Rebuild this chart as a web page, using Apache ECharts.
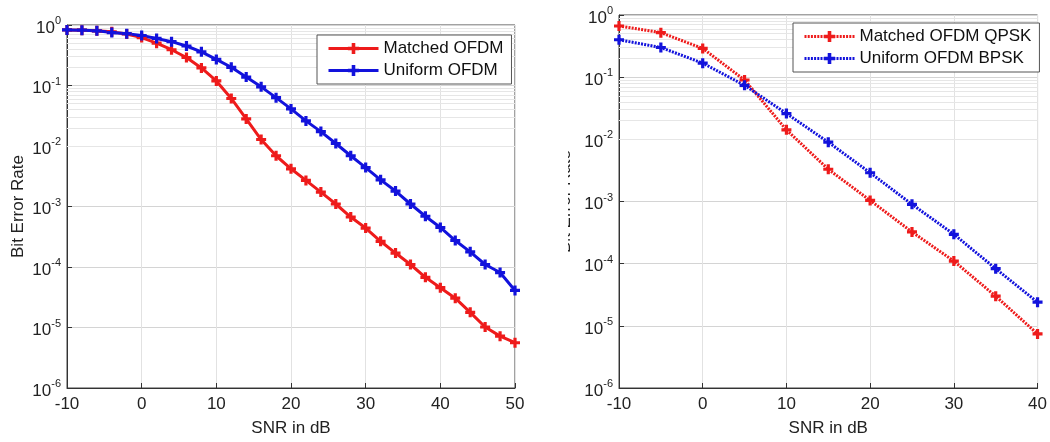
<!DOCTYPE html>
<html>
<head>
<meta charset="utf-8">
<script src="https://cdn.jsdelivr.net/npm/echarts@6/dist/echarts.min.js"></script>
<style>
  html, body { margin: 0; padding: 0; background: #fff; }
  #chart { width: 1050px; height: 442px; }
</style>
</head>
<body>
<div id="chart"></div>
<script>
// left panel: SNR every 2 dB
const snrLeft = [-10, -8, -6, -4, -2, 0, 2, 4, 6, 8, 10, 12, 14, 16, 18, 20, 22, 24, 26, 28, 30, 32, 34, 36, 38, 40, 42, 44, 46, 48, 50]
const berMatched = [0.83, 0.82, 0.80, 0.77, 0.71, 0.62, 0.50, 0.39, 0.29, 0.195, 0.119, 0.061, 0.028, 0.0128, 0.0069, 0.0042, 0.0027, 0.00173, 0.0011, 0.00067, 0.00044, 0.000266, 0.00017, 0.00011, 0.0000675, 0.0000455, 0.0000305, 0.0000178, 0.0000102, 0.0000072, 0.0000056]
const berUniform = [0.83, 0.82, 0.80, 0.75, 0.72, 0.67, 0.60, 0.53, 0.45, 0.36, 0.27, 0.20, 0.138, 0.095, 0.063, 0.041, 0.026, 0.0173, 0.011, 0.0069, 0.0044, 0.00276, 0.0018, 0.0011, 0.00069, 0.00045, 0.000274, 0.000178, 0.00011, 0.000081, 0.000041]

// right panel: SNR every 5 dB
const snrRight = [-10, -5, 0, 5, 10, 15, 20, 25, 30, 35, 40]
const berQpsk = [0.665, 0.52, 0.29, 0.09, 0.0142, 0.0033, 0.00104, 0.000324, 0.00011, 0.00003, 0.0000074]
const berBpsk = [0.40, 0.30, 0.168, 0.074, 0.026, 0.009, 0.0029, 0.0009, 0.000297, 0.000083, 0.000024]

const decades = [1e-6, 1e-5, 1e-4, 1e-3, 1e-2, 1e-1]
const mantissas = [2, 3, 4, 5, 6, 7, 8, 9]

const RED = '#ee1b1b'
const BLUE = '#1212dc'
const FONT = 'Liberation Sans, Arial, sans-serif'
const PLUS = 'path://M3.4,0H6.6V3.4H10V6.6H6.6V10H3.4V6.6H0V3.4H3.4Z'

let minorLines = []
decades.forEach(d => {
  mantissas.forEach(m => {
    minorLines.push({ yAxis: +(m * d).toPrecision(3) })
  })
})

const pairs = (xs, ys) => xs.map((x, i) => [x, ys[i]])

function xAxisFor(idx, max) {
  return {
    type: 'value', gridIndex: idx, min: -10, max: max, interval: 10,
    name: 'SNR in dB', nameLocation: 'middle', nameGap: 32,
    nameTextStyle: { color: '#222', fontFamily: FONT, fontSize: 17 },
    axisLine: { onZero: false, lineStyle: { color: '#333' } },
    axisTick: { inside: true, length: 5, lineStyle: { color: '#333' } },
    axisLabel: { color: '#222', fontFamily: FONT, fontSize: 17, margin: 8 },
    splitLine: { show: true, lineStyle: { color: '#e2e2e2', width: 1 } }
  }
}

function yAxisFor(idx, gap) {
  return {
    type: 'log', gridIndex: idx, logBase: 10, min: 1e-6, max: 1,
    name: 'Bit Error Rate', nameLocation: 'middle', nameGap: gap,
    nameTextStyle: { color: '#222', fontFamily: FONT, fontSize: 17 },
    axisLine: { onZero: false, lineStyle: { color: '#333' } },
    axisTick: { inside: true, length: 5, lineStyle: { color: '#333' } },
    axisLabel: {
      margin: 6,
      formatter: v => '{b|10}{s|' + Math.round(Math.log10(v)) + '}',
      rich: {
        b: { color: '#222', fontFamily: FONT, fontSize: 17, padding: [6, 0, 0, 0] },
        s: { color: '#222', fontFamily: FONT, fontSize: 11, padding: [0, 0, 8, 0] }
      }
    },
    splitLine: { show: true, lineStyle: { color: '#d4d4d4', width: 1 } }
  }
}

function minorSeries(idx) {
  return {
    type: 'line', xAxisIndex: idx, yAxisIndex: idx, data: [], z: 1, silent: true,
    markLine: {
      silent: true, symbol: 'none', label: { show: false }, z: 1,
      lineStyle: { color: '#e6e6e6', type: 'solid', width: 1 },
      animation: false, data: minorLines
    }
  }
}

function curve(name, idx, data, color, dotted) {
  return {
    name: name, type: 'line', xAxisIndex: idx, yAxisIndex: idx, data: data, z: 5,
    symbol: PLUS, symbolSize: 10, showAllSymbol: true,
    itemStyle: { color: color },
    lineStyle: { color: color, width: 3, type: dotted ? [2, 1.2] : 'solid' }
  }
}

function legendFor(names, left, top) {
  return {
    data: names, orient: 'vertical', left: left, top: top, z: 50,
    backgroundColor: '#fff', borderColor: '#555', borderWidth: 1,
    padding: [5, 8, 5, 10], itemGap: 5, itemWidth: 50, itemHeight: 14,
    lineStyle: { width: 3 },
    textStyle: { color: '#111', fontFamily: FONT, fontSize: 17 }
  }
}

const chart = echarts.init(document.getElementById('chart'))
chart.setOption({
  animation: false,
  backgroundColor: '#fff',
  grid: [
    { left: 67, top: 25, width: 448, height: 370, show: true, borderColor: '#444', borderWidth: 1, backgroundColor: 'transparent' },
    { left: 619, top: 15, width: 420, height: 383, show: true, borderColor: '#444', borderWidth: 1, backgroundColor: 'transparent' }
  ],
  legend: [
    legendFor(['Matched OFDM', 'Uniform OFDM'], 317, 35),
    legendFor(['Matched OFDM QPSK', 'Uniform OFDM BPSK'], 793, 23)
  ],
  xAxis: [xAxisFor(0, 50), xAxisFor(1, 40)],
  yAxis: [yAxisFor(0, 40), yAxisFor(1, 45)],
  series: [
    minorSeries(0),
    minorSeries(1),
    curve('Matched OFDM', 0, pairs(snrLeft, berMatched), RED, false),
    curve('Uniform OFDM', 0, pairs(snrLeft, berUniform), BLUE, false),
    curve('Matched OFDM QPSK', 1, pairs(snrRight, berQpsk), RED, true),
    curve('Uniform OFDM BPSK', 1, pairs(snrRight, berBpsk), BLUE, true)
  ],
  graphic: [
    // the second panel's axis title is cropped at its left edge in the source image
    { type: 'rect', z: 100, shape: { x: 530, y: 120, width: 38, height: 180 }, style: { fill: '#fff' } }
  ]
})

window.addEventListener('resize', () => chart.resize())
</script>
</body>
</html>
